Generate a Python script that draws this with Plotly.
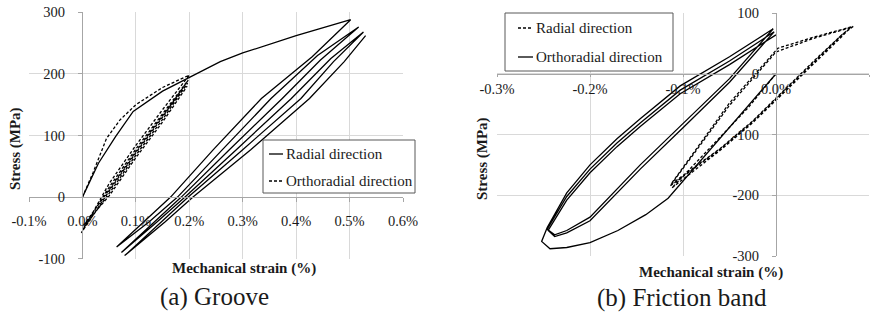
import plotly.graph_objects as go

# ---------------- DATA ----------------
# (a) Groove : strain in %, stress in MPa
groove_radial_strain = [0, 0.03, 0.062, 0.095, 0.15, 0.2, 0.258, 0.3, 0.4, 0.502,
                        0.43, 0.335, 0.245, 0.165, 0.115, 0.064,
                        0.125, 0.178, 0.262, 0.353, 0.44, 0.517,
                        0.445, 0.374, 0.275, 0.185, 0.135, 0.073,
                        0.14, 0.192, 0.288, 0.391, 0.465, 0.526,
                        0.47, 0.409, 0.30, 0.198, 0.148, 0.079,
                        0.155, 0.207, 0.315, 0.425, 0.49, 0.53]
groove_radial_stress = [0, 55, 98, 139, 172, 194, 220, 234, 262, 288,
                        228, 160, 77, 0, -40, -81,
                        -40, 0, 77, 160, 230, 276,
                        222, 160, 77, 0, -40, -90,
                        -40, 0, 77, 160, 225, 268,
                        220, 160, 77, 0, -40, -95,
                        -40, 0, 77, 160, 220, 262]

groove_ortho_strain = [0, 0.02, 0.045, 0.07, 0.1, 0.15, 0.2,
                       0.15, 0.1, 0.05, -0.002,
                       0.05, 0.1, 0.15, 0.198,
                       0.15, 0.1, 0.05, 0.0,
                       0.05, 0.1, 0.15, 0.197,
                       0.15, 0.1, 0.05, 0.002,
                       0.05, 0.1, 0.15, 0.196]
groove_ortho_stress = [0, 40, 95, 125, 150, 178, 198,
                       142, 84, 22, -58,
                       10, 72, 130, 190,
                       136, 78, 16, -53,
                       6, 68, 126, 185,
                       132, 74, 12, -46,
                       2, 64, 122, 180]

# (b) Friction band
fb_radial_strain = [0, -0.03, -0.112,
                    -0.06, -0.026, 0, 0.04, 0.07, 0.08,
                    0.04, 0.0, -0.05, -0.114,
                    -0.06, -0.026, 0, 0.04, 0.07, 0.083,
                    0.04, 0.002, -0.05, -0.113,
                    -0.06, -0.026, 0, 0.04, 0.07, 0.081]
fb_radial_stress = [0, -56, -188,
                    -126, -82, -44, 16, 60, 76,
                    58, 36, -52, -185,
                    -124, -80, -41, 19, 63, 78,
                    60, 42, -48, -182,
                    -123, -79, -40, 20, 63, 77]

fb_ortho_strain = [0, -0.116, -0.14, -0.17, -0.2, -0.225, -0.243, -0.252, -0.246,
                   -0.225, -0.2, -0.171, -0.146, -0.103, -0.05, -0.003,
                   -0.05, -0.1, -0.146, -0.2, -0.225, -0.238, -0.246,
                   -0.225, -0.2, -0.171, -0.146, -0.103, -0.05, -0.002,
                   -0.05, -0.1, -0.146, -0.2, -0.225, -0.238, -0.245,
                   -0.225, -0.2, -0.171, -0.146, -0.103, -0.05, 0.0]
fb_ortho_stress = [0, -205, -232, -258, -278, -286, -288, -276, -253,
                   -196, -150, -107, -74, -20, 28, 74,
                   -8, -82, -150, -236, -258, -265, -256,
                   -202, -157, -114, -81, -27, 21, 69,
                   -14, -89, -157, -242, -262, -268, -258,
                   -208, -163, -120, -87, -33, 15, 64]

groove_x_ticks = [-0.1, 0.0, 0.1, 0.2, 0.3, 0.4, 0.5, 0.6]
groove_x_labels = ["-0.1%", "0.0%", "0.1%", "0.2%", "0.3%", "0.4%", "0.5%", "0.6%"]
groove_y_ticks = [-100, 0, 100, 200, 300]
groove_y_labels = ["-100", "0", "100", "200", "300"]
fb_x_ticks = [-0.3, -0.2, -0.1, 0.0, 0.1]
fb_x_labels = ["-0.3%", "-0.2%", "-0.1%", "0.0%", "0.1%"]
fb_y_ticks = [-300, -200, -100, 0, 100]
fb_y_labels = ["-300", "-200", "-100", "0", "100"]

# ---------------- LAYOUT HELPERS ----------------
W, H = 884, 316
def px(x):
    return x / W
def py(y):
    return 1 - y / H

FONT = "Liberation Serif, Times New Roman, DejaVu Serif, serif"
GRID = "#d9d9d9"
AXC = "#a6a6a6"
TXT = "#1a1a1a"
LW = 1.3
DASH = "3px,2px"

fig = go.Figure()

fig.add_trace(go.Scatter(x=groove_radial_strain, y=groove_radial_stress, mode="lines",
                         name="Radial direction", xaxis="x", yaxis="y",
                         line=dict(color="black", width=LW), showlegend=False))
fig.add_trace(go.Scatter(x=groove_ortho_strain, y=groove_ortho_stress, mode="lines",
                         name="Orthoradial direction", xaxis="x", yaxis="y",
                         line=dict(color="black", width=LW, dash=DASH), showlegend=False))
fig.add_trace(go.Scatter(x=fb_radial_strain, y=fb_radial_stress, mode="lines",
                         name="Radial direction", xaxis="x2", yaxis="y2",
                         line=dict(color="black", width=LW, dash=DASH), showlegend=False))
fig.add_trace(go.Scatter(x=fb_ortho_strain, y=fb_ortho_stress, mode="lines",
                         name="Orthoradial direction", xaxis="x2", yaxis="y2",
                         line=dict(color="black", width=LW), showlegend=False))

tickfont = dict(family=FONT, size=14.5, color=TXT)
common = dict(showgrid=True, gridcolor=GRID, gridwidth=1, zeroline=False,
              showline=True, linecolor=AXC, linewidth=1, ticks="outside",
              tickcolor=AXC, tickfont=tickfont, tickmode="array",
              automargin=False, fixedrange=True)

fig.update_layout(
    width=W, height=H, margin=dict(l=0, r=0, t=0, b=0, autoexpand=False),
    paper_bgcolor="white", plot_bgcolor="white", showlegend=False,
    xaxis=dict(domain=[px(29), px(403)], range=[-0.1, 0.6],
               tickvals=groove_x_ticks, ticktext=groove_x_labels, ticklen=4,
               anchor="free", position=py(197.3), ticklabelstandoff=6, **common),
    yaxis=dict(domain=[py(258.7), py(12.3)], range=[-100, 300],
               tickvals=groove_y_ticks, ticktext=groove_y_labels, ticklen=4,
               anchor="free", position=px(82), ticklabelstandoff=10, **common),
    xaxis2=dict(domain=[px(497), px(869)], range=[-0.3, 0.1],
                tickvals=fb_x_ticks, ticktext=fb_x_labels, ticklen=2,
                anchor="free", position=py(74), ticklabelstandoff=0, **common),
    yaxis2=dict(domain=[py(256), py(13)], range=[-300, 100],
                tickvals=fb_y_ticks, ticktext=fb_y_labels, ticklen=4,
                anchor="free", position=px(776), ticklabelstandoff=10, **common),
)

ann = []
def text(x, y, s, size=14, bold=False, angle=0, xanchor="center"):
    ann.append(dict(x=px(x), y=py(y), xref="paper", yref="paper", text=(f"<b>{s}</b>" if bold else s),
                    showarrow=False, textangle=angle, xanchor=xanchor, yanchor="middle",
                    font=dict(family=FONT, size=size, color=TXT)))

text(244, 268, "Mechanical strain (%)", 15, True)
text(711, 272, "Mechanical strain (%)", 15, True)
text(15, 149, "Stress (MPa)", 15, True, -90)
text(482, 158, "Stress (MPa)", 15, True, -90)
text(214, 297, "(a) Groove", 25)
text(682, 298, "(b) Friction band", 25)

# legends (drawn manually)
shapes = []
def rect(x0, y0, x1, y1):
    shapes.append(dict(type="rect", xref="paper", yref="paper", x0=px(x0), x1=px(x1),
                       y0=py(y1), y1=py(y0), line=dict(color="#595959", width=1),
                       fillcolor="white", layer="above"))
def sample(x0, x1, y, dash=None):
    ln = dict(color="black", width=LW)
    if dash:
        ln["dash"] = dash
    shapes.append(dict(type="line", xref="paper", yref="paper", x0=px(x0), x1=px(x1),
                       y0=py(y), y1=py(y), line=ln, layer="above"))

rect(263, 140, 415, 193)
sample(269, 283, 154)
sample(269, 283, 181, DASH)
text(284, 154, "Radial direction", 15, xanchor="left")
text(284, 181, "Orthoradial direction", 15, xanchor="left")

rect(505, 13, 673, 71)
sample(518, 533, 28, DASH)
sample(518, 533, 57)
text(534, 28, "Radial direction", 15, xanchor="left")
text(534, 57, "Orthoradial direction", 15, xanchor="left")

fig.update_layout(annotations=ann, shapes=shapes)
fig.write_html("out.html", config={"displayModeBar": False},
               post_script="document.body.style.margin='0';document.body.style.padding='0';")
